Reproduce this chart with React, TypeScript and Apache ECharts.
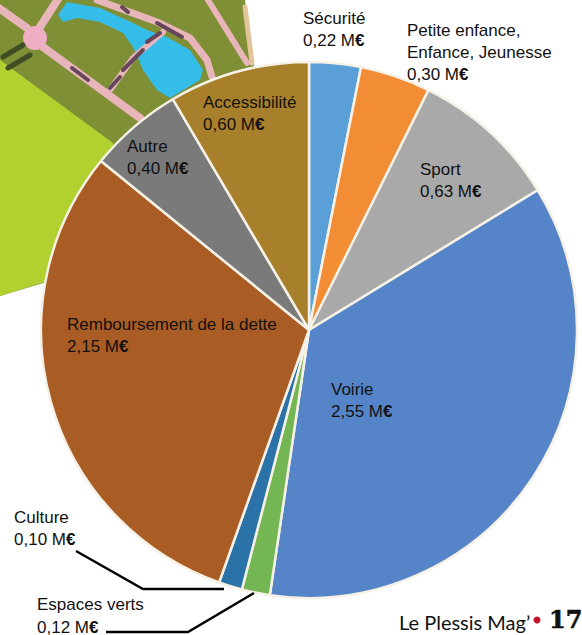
import React, { useEffect, useRef } from "react";
import * as echarts from "echarts";

const categories = [
  "Sécurité",
  "Petite enfance,\nEnfance, Jeunesse",
  "Sport",
  "Voirie",
  "Espaces verts",
  "Culture",
  "Remboursement de la dette",
  "Autre",
  "Accessibilité",
];
const values = [0.22, 0.3, 0.63, 2.55, 0.12, 0.1, 2.15, 0.4, 0.6];
const sliceColors = ["#5b9fd9", "#f28d35", "#a9a9a9", "#5585c8", "#74b654", "#2a72a8", "#aa5c25", "#7a7a7a", "#a87f2b"];
const labelAnchors = [
  [303, 7], [407, 19], [420, 158], [331, 378], [37, 590], [14, 506], [67, 313], [127, 135], [203, 91],
];
const FOOT_LABEL = 4;

const pink = "#e8b6ba";
const road = (points: number[][], width: number, color = pink) => ({
  type: "polyline",
  silent: true,
  shape: { points },
  style: { stroke: color, lineWidth: width, fill: "none", lineCap: "round", lineJoin: "round" },
});
const leader = (points: number[][]) => ({
  type: "polyline",
  z: 20,
  silent: true,
  shape: { points },
  style: { stroke: "#000", lineWidth: 2.5, fill: "none" },
});

const background = [
  { type: "polygon", silent: true, shape: { points: [[0, 0], [245, 0], [256, 80], [60, 278], [0, 296]] }, style: { fill: "#7f8f35" } },
  { type: "polygon", silent: true, shape: { points: [[0, 60], [113, 143], [130, 255], [0, 296]] }, style: { fill: "#b1d130" } },
  {
    type: "polygon",
    silent: true,
    shape: {
      points: [[67, 2], [100, 8], [133, 23], [147, 30], [167, 37], [190, 50], [203, 70], [200, 80], [170, 98], [157, 90], [143, 70], [138, 58], [133, 47], [123, 33], [100, 22], [77, 18], [63, 22], [58, 15]],
    },
    style: { fill: "#35bdea" },
  },
  road([[-4, 6], [27, 28]], 8),
  road([[40, 27], [60, -4]], 8),
  road([[43, 47], [140, 118]], 8),
  road([[97, 0], [157, 22], [190, 38], [207, 60], [212, 77]], 7),
  road([[110, 90], [133, 58], [163, 32]], 6),
  road([[208, 0], [247, 63]], 6),
  road([[245, 7], [252, 63]], 5, "#e2c39a"),
  { type: "circle", silent: true, shape: { cx: 35, cy: 38, r: 12 }, style: { fill: "#efaec4" } },
  road([[3, 57], [23, 45]], 5, "#3f4d22"),
  road([[8, 68], [30, 55]], 5, "#3f4d22"),
  road([[72, 68], [88, 80]], 4, "#66475a"),
  road([[110, 88], [120, 77]], 4, "#66475a"),
  road([[123, 70], [143, 50]], 4, "#66475a"),
  road([[147, 42], [160, 33]], 4, "#66475a"),
  road([[157, 23], [182, 37]], 4, "#66475a"),
  road([[122, 7], [128, 12]], 4, "#66475a"),
];

const footer = [
  { type: "text", silent: true, style: { x: 399, y: 612, text: "Le Plessis Mag’", fontFamily: "Lato", fontSize: 20, fill: "#111" } },
  { type: "circle", silent: true, shape: { cx: 537, cy: 620, r: 3.5 }, style: { fill: "#c8102e" } },
  { type: "text", silent: true, style: { x: 549, y: 607, text: "17", fontFamily: "DejaVu Serif", fontWeight: "bold", fontSize: 24, fill: "#111", stroke: "#111", lineWidth: 0.6 } },
];

const fmt = (v: number) => v.toFixed(2).replace(".", ",");

export default function App() {
  const ref = useRef<HTMLDivElement>(null);
  useEffect(() => {
    document.body.style.margin = "0";
    const chart = echarts.init(ref.current!, undefined, { renderer: "svg" });
    const font = { fontFamily: "Liberation Sans", fontSize: 17, color: "#111" };
    chart.setOption({
      animation: false,
      backgroundColor: "#fff",
      graphic: { elements: [...background.map((e) => ({ ...e, z: 0 })), leader([[76, 551], [143, 589], [224, 589]]), leader([[106, 632], [188, 632], [254, 593]]), ...footer] },
      series: [
        {
          type: "pie",
          center: [309, 330],
          radius: [0, 268],
          startAngle: 90,
          clockwise: true,
          avoidLabelOverlap: false,
          z: 5,
          itemStyle: { borderColor: "#f6f1e6", borderWidth: 2.5 },
          emphasis: { disabled: true },
          labelLine: { show: false },
          label: {
            show: true,
            position: "inside",
            ...font,
            lineHeight: 22,
            align: "left",
            formatter: (p: any) => {
              const foot = p.dataIndex === FOOT_LABEL;
              const lines = String(p.name).split("\n").map((l: string) => `{${foot ? "ft" : "n"}|${l}}`);
              return [...lines, `{${foot ? "fv" : "n"}|${fmt(p.value)} M}{${foot ? "fe" : "e"}|€}`].join("\n");
            },
            rich: {
              n: { ...font, lineHeight: 22 },
              e: { ...font, fontWeight: "bold", lineHeight: 22 },
              ft: { ...font, lineHeight: 29 },
              fv: { ...font, lineHeight: 16 },
              fe: { ...font, fontWeight: "bold", lineHeight: 16 },
            },
          },
          labelLayout: (p: any) => {
            const [x, y] = labelAnchors[p.dataIndex];
            return { x, y, align: "left", verticalAlign: "top", hideOverlap: false };
          },
          data: categories.map((name, i) => ({ name, value: values[i], itemStyle: { color: sliceColors[i] } })),
        },
      ],
    });
    return () => chart.dispose();
  }, []);
  return <div ref={ref} style={{ width: 582, height: 635 }} />;
}
